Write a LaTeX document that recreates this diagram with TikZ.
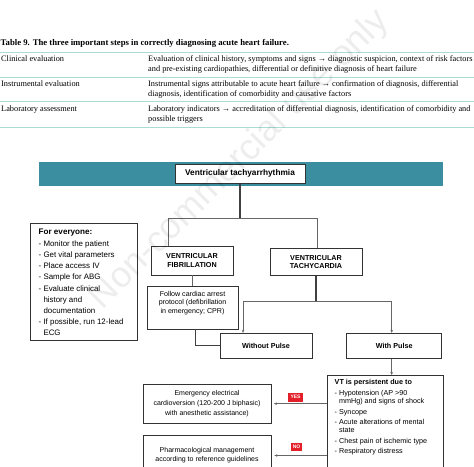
\documentclass[tikz,border=0pt]{standalone}
\usepackage{fontspec}
\setmainfont{Liberation Serif}
\setsansfont{Liberation Sans}
\usetikzlibrary{arrows.meta,calc}
\definecolor{teal0}{HTML}{3B8EA0}
\definecolor{rule0}{HTML}{A8DDD6}
\definecolor{red0}{HTML}{E3202A}
\definecolor{ln}{HTML}{666666}
\begin{document}
\begin{tikzpicture}[x=1pt,y=-1pt,
 tabtxt/.style={anchor=base west,inner sep=0,font=\fontsize{8.3}{9}\selectfont},
 tabrule/.style={draw=rule0,line width=0.8pt},
 box/.style={draw=black!80,line width=0.9pt,fill=white,inner sep=0,align=center,font=\sffamily\fontsize{7}{9.6}\selectfont},
 bbox/.style={box,font=\sffamily\bfseries\fontsize{7.2}{8.6}\selectfont},
 boxtxt/.style={inner sep=0,align=center,font=\sffamily\fontsize{7.1}{8.6}\selectfont},
 listtxt/.style={anchor=north west,inner sep=0,align=left},
 conn/.style={draw=ln,line width=1pt},
 darkconn/.style={draw=black!75,line width=1.2pt},
 arr/.style={conn,-{Stealth[length=3pt,width=2.6pt]}},
 tag/.style={fill=red0,text=white,inner sep=0,font=\sffamily\bfseries\fontsize{5}{5}\selectfont}
]
\useasboundingbox (0,0) rectangle (474,466);
\begin{scope}
\clip (0,0) rectangle (474,466);
% ---------- table ----------
\node[anchor=base west,inner sep=0,font=\bfseries\fontsize{8.7}{9}\selectfont] (title) at (0.5,45) {Table 9. The three important steps in correctly diagnosing acute heart failure.};
\draw[tabrule] (0,52) -- (474,52);
\draw[tabrule] (0,77) -- (474,77);
\draw[tabrule] (0,101.5) -- (474,101.5);
\draw[tabrule] (0,127) -- (474,127);
\node[tabtxt] (r1a) at (1,61.8) {Clinical evaluation};
\node[tabtxt] (r1b) at (148,61.8) {Evaluation of clinical history, symptoms and signs → diagnostic suspicion, context of risk factors};
\node[tabtxt] (r1c) at (148,71) {and pre-existing cardiopathies, differential or definitive diagnosis of heart failure};
\node[tabtxt] (r2a) at (1,86.8) {Instrumental evaluation};
\node[tabtxt] (r2b) at (148,86.8) {Instrumental signs attributable to acute heart failure → confirmation of diagnosis, differential};
\node[tabtxt] (r2c) at (148,96) {diagnosis, identification of comorbidity and causative factors};
\node[tabtxt] (r3a) at (1,111.8) {Laboratory assessment};
\node[tabtxt] (r3b) at (148,111.8) {Laboratory indicators → accreditation of differential diagnosis, identification of comorbidity and};
\node[tabtxt] (r3c) at (148,121) {possible triggers};
% ---------- flowchart ----------
\node[fill=teal0,minimum width=404,minimum height=23.7,inner sep=0] (bar) at (241,174.2) {};
\node[box,font=\sffamily\bfseries\fontsize{8.3}{9}\selectfont,minimum width=130,minimum height=19] (top) at (240,173.7) {Ventricular tachyarrhythmia};
\node[bbox,minimum width=82,minimum height=29] (vf) at (192,260.5) {VENTRICULAR\\FIBRILLATION};
\node[bbox,minimum width=92,minimum height=27.5] (vt) at (316,262) {VENTRICULAR\\TACHYCARDIA};
\node[box,minimum width=91,minimum height=43] (follow) at (192.5,307.5) {};
\node[boxtxt] (followtxt) at (192.5,302.8) {Follow cardiac arrest\\protocol (defibrillation\\in emergency; CPR)};
\node[box,minimum width=107.7,minimum height=117.4] (every) at (83.85,282) {};
\node[listtxt,font=\sffamily\fontsize{7.9}{11.1}\selectfont] (everytxt) at (38.5,228.6) {{\fontsize{8.1}{11.1}\selectfont\bfseries For everyone:}\\[1.2pt]- Monitor the patient\\- Get vital parameters\\- Place access IV\\- Sample for ABG\\- Evaluate clinical\\\phantom{- }history and\\\phantom{- }documentation\\- If possible, run 12-lead\\\phantom{- }ECG};
\node[bbox,minimum width=92,minimum height=25] (without) at (266,345.8) {Without Pulse};
\node[bbox,minimum width=95,minimum height=25] (with) at (394.2,345.8) {With Pulse};
\node[box,anchor=north west,minimum width=115.8,minimum height=105] (vtp) at (326.7,375) {};
\node[listtxt,font=\sffamily\fontsize{7.2}{7.9}\selectfont] (vtptxt) at (334.5,378.6) {\textbf{VT is persistent due to}\\[3.4pt]- Hypotension (AP >90\\\phantom{- }mmHg) and signs of shock\\[3pt]- Syncope\\[2.6pt]- Acute alterations of mental\\\phantom{- }state\\[3.3pt]- Chest pain of ischemic type\\[2.1pt]- Respiratory distress};
\node[box,minimum width=128,minimum height=39.3] (emerg) at (207,403.7) {Emergency electrical\\cardioversion (120-200 J biphasic)\\with anesthetic assistance)};
\node[box,anchor=north west,minimum width=128,minimum height=45] (pharm) at (143,435) {};
\node[boxtxt,font=\sffamily\fontsize{7}{9}\selectfont] (pharmtxt) at (207,455.5) {Pharmacological management\\according to reference guidelines};
\node[tag,minimum width=14.5,minimum height=9] (yes) at (295.5,397) {YES};
\node[tag,minimum width=11.5,minimum height=8.5] (no) at (296.5,447) {NO};
% connectors
\coordinate (jc) at (241,218.3);
\coordinate (jl) at (168,218.3);
\coordinate (jr) at (317,218.3);
\draw[darkconn] (top.south) -- (top.south |- jc);
\draw[conn] (vf.north -| jl) |- (jr) -- (vt.north -| jr);
\draw[conn] (vf.south) -- (vf.south |- follow.north);
\coordinate (fj) at (195.7,329);
\draw[darkconn] (follow.south -| fj) |- (without.west);
\coordinate (jwo) at (243,301.7);
\coordinate (jw) at (391.7,301.7);
\draw[darkconn] (vt.south) -- (vt.south |- jw);
\draw[conn] (jwo) -- (jw);
\draw[arr] (jwo) -- (jwo |- without.north);
\draw[arr] (jw) -- (jw |- with.north);
\draw[arr] (with.south -| jw) -- (vtp.north -| jw);
\draw[arr,shorten >=2.5pt] (vtp.west |- emerg.east) -- (emerg.east);
\draw[arr,shorten >=2.5pt] (vtp.west |- pharmtxt) -- (pharm.east |- pharmtxt);
% watermark
\node[rotate=45,text=black,text opacity=0.07,font=\sffamily\fontsize{36}{36}\selectfont] (wm) at (240,160) {Non-commercial use only};
\end{scope}
\end{tikzpicture}
\end{document}
